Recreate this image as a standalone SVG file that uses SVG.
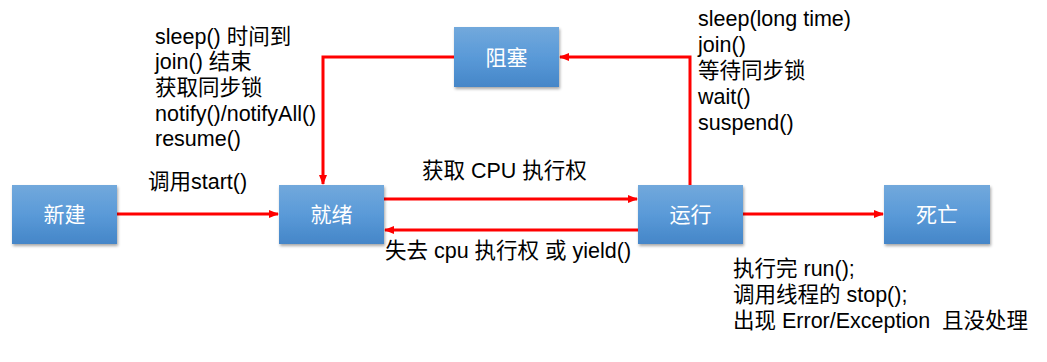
<svg xmlns="http://www.w3.org/2000/svg" width="1047" height="362" viewBox="0 0 1047 362">
<style>
.t{font-family:"Liberation Sans","Noto Sans CJK SC",sans-serif;font-size:21.5px;fill:#000}
.bt{font-family:"Liberation Sans","Noto Sans CJK SC",sans-serif;font-size:21px;fill:#fff;text-anchor:middle}
.box{fill:url(#g);filter:url(#sh)}
.c{stroke:#ff0000;stroke-width:3;fill:none}
</style>
<defs>
<linearGradient id="g" x1="0" y1="0" x2="0" y2="1">
<stop offset="0" stop-color="#72a9dc"/>
<stop offset="0.5" stop-color="#5a9ad8"/>
<stop offset="1" stop-color="#4586c8"/>
</linearGradient>
<filter id="sh" x="-20%" y="-20%" width="140%" height="150%">
<feDropShadow dx="1" dy="2" stdDeviation="1.5" flood-color="#000" flood-opacity="0.35"/>
</filter>
<marker id="a" markerWidth="10" markerHeight="8" refX="9" refY="4" orient="auto" markerUnits="userSpaceOnUse">
<path d="M0,0 L10,4 L0,8 Z" fill="#ff0000"/>
</marker>
</defs>
<g id="connectors">
<line class="c" x1="117" y1="214" x2="278" y2="214" marker-end="url(#a)"/>
<line class="c" x1="384" y1="199" x2="637" y2="199" marker-end="url(#a)"/>
<line class="c" x1="638" y1="230" x2="385" y2="230" marker-end="url(#a)"/>
<line class="c" x1="743" y1="214" x2="883" y2="214" marker-end="url(#a)"/>
<polyline class="c" points="690,185 690,57 560,57" marker-end="url(#a)"/>
<polyline class="c" points="454,57 323,57 323,184" marker-end="url(#a)"/>
</g>
<g id="n-new"><rect class="box" x="12" y="185" width="105" height="59"/><text class="bt" x="64.5" y="222">新建</text></g>
<g id="n-ready"><rect class="box" x="279" y="185" width="105" height="59"/><text class="bt" x="331.5" y="222">就绪</text></g>
<g id="n-blocked"><rect class="box" x="454" y="27" width="105" height="60"/><text class="bt" x="506.5" y="65">阻塞</text></g>
<g id="n-running"><rect class="box" x="638" y="185" width="105" height="59"/><text class="bt" x="690.5" y="222">运行</text></g>
<g id="n-dead"><rect class="box" x="884" y="185" width="106" height="59"/><text class="bt" x="937" y="222">死亡</text></g>
<g id="labels">
<text class="t" x="148" y="189">调用start()</text>
<text class="t" x="422" y="178">获取 CPU 执行权</text>
<text class="t" x="385" y="258">失去 cpu 执行权 或 yield()</text>
<text class="t" x="155" y="44">sleep() 时间到</text>
<text class="t" x="155" y="69">join() 结束</text>
<text class="t" x="155" y="95">获取同步锁</text>
<text class="t" x="155" y="121">notify()/notifyAll()</text>
<text class="t" x="155" y="146">resume()</text>
<text class="t" x="698" y="26">sleep(long time)</text>
<text class="t" x="698" y="52">join()</text>
<text class="t" x="698" y="78">等待同步锁</text>
<text class="t" x="698" y="104">wait()</text>
<text class="t" x="698" y="130">suspend()</text>
<text class="t" x="733" y="276">执行完 run();</text>
<text class="t" x="733" y="302">调用线程的 stop();</text>
<text class="t" x="733" y="328" xml:space="preserve">出现 Error/Exception  且没处理</text>
</g>
</svg>
